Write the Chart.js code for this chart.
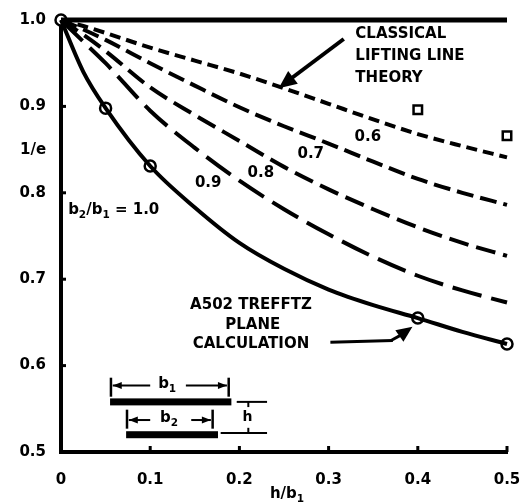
<!DOCTYPE html>
<html>
<head>
<meta charset="utf-8">
<script src="https://cdn.jsdelivr.net/npm/chart.js@4.4.1/dist/chart.umd.min.js"></script>
<style>
  html, body { margin: 0; padding: 0; background: #fff; }
</style>
</head>
<body>
<canvas id="myChart" width="523" height="504"></canvas>
<script>
// h/b1 positions where the curves were read
const hOverB1 = [0, 0.025, 0.05, 0.1, 0.15, 0.2, 0.25, 0.3, 0.35, 0.4, 0.45, 0.5];

// 1/e for each b2/b1 ratio
const ratio06 = [1.0, 0.993, 0.985, 0.968, 0.953, 0.938, 0.921, 0.903, 0.885, 0.868, 0.854, 0.841];
const ratio07 = [1.0, 0.989, 0.977, 0.95, 0.924, 0.899, 0.877, 0.857, 0.836, 0.816, 0.8, 0.786];
const ratio08 = [1.0, 0.983, 0.964, 0.922, 0.89, 0.86, 0.83, 0.804, 0.781, 0.76, 0.742, 0.727];
const ratio09 = [1.0, 0.975, 0.95, 0.895, 0.852, 0.814, 0.781, 0.752, 0.726, 0.704, 0.687, 0.673];
const ratio10 = [1.0, 0.94, 0.898, 0.831, 0.783, 0.742, 0.712, 0.688, 0.670, 0.655, 0.639, 0.625];

// A502 Trefftz plane calculation (circles)
const calcX = [0, 0.05, 0.1, 0.4, 0.5];
const calcY = [1.0, 0.898, 0.831, 0.655, 0.625];

// classical lifting line theory (squares)
const lltX = [0.4, 0.5];
const lltY = [0.896, 0.866];

// top line 1/e = 1
const topX = [0, 0.5];
const topY = [1.0, 1.0];

const xTicks = [0, 0.1, 0.2, 0.3, 0.4, 0.5];
const yTicks = [0.5, 0.6, 0.7, 0.8, 0.9, 1.0];

const pts = (xs, ys) => xs.map((x, i) => ({ x: x, y: ys[i] }));
const FONT = "DejaVu Sans";

function curve(ys, dash) {
  return {
    data: pts(hOverB1, ys),
    borderColor: "#000",
    borderWidth: 4,
    borderDash: dash,
    borderCapStyle: "butt",
    cubicInterpolationMode: "monotone",
    pointRadius: 0,
    clip: false,
  };
}

// annotations, drawn through the scales
const annotate = {
  id: "annotate",
  afterDatasetsDraw(chart) {
    const c = chart.ctx;
    const sx = chart.scales.x, sy = chart.scales.y;
    const px = (v) => sx.getPixelForValue(v);
    const py = (v) => sy.getPixelForValue(v);
    c.save();
    c.fillStyle = "#000";
    c.strokeStyle = "#000";

    function text(t, x, y, size, align) {
      c.font = "bold " + size + "px '" + FONT + "'";
      c.textAlign = align || "left";
      c.textBaseline = "middle";
      c.fillText(t, x, y);
    }
    // text with subscripts: parts = [[str, isSub], ...]
    function subText(parts, x, y, size, align) {
      let w = 0;
      parts.forEach((p) => {
        c.font = "bold " + (p[1] ? size * 0.7 : size) + "px '" + FONT + "'";
        w += c.measureText(p[0]).width;
      });
      let cx = align === "center" ? x - w / 2 : x;
      c.textAlign = "left";
      c.textBaseline = "middle";
      parts.forEach((p) => {
        c.font = "bold " + (p[1] ? size * 0.7 : size) + "px '" + FONT + "'";
        c.fillText(p[0], cx, p[1] ? y + size * 0.35 : y);
        cx += c.measureText(p[0]).width;
      });
    }
    function head(x0, y0, x1, y1, len, wid) {
      const a = Math.atan2(y1 - y0, x1 - x0);
      c.beginPath();
      c.moveTo(x1, y1);
      c.lineTo(x1 - len * Math.cos(a) + wid * Math.sin(a), y1 - len * Math.sin(a) - wid * Math.cos(a));
      c.lineTo(x1 - len * Math.cos(a) - wid * Math.sin(a), y1 - len * Math.sin(a) + wid * Math.cos(a));
      c.closePath();
      c.fill();
    }
    function line(x0, y0, x1, y1, w) {
      c.lineWidth = w;
      c.beginPath();
      c.moveTo(x0, y0);
      c.lineTo(x1, y1);
      c.stroke();
    }

    // inward tick marks
    const ca = chart.chartArea;
    c.lineCap = "butt";
    xTicks.slice(1).forEach((v) => line(px(v), ca.bottom, px(v), ca.bottom - 6, 3));
    yTicks.slice(1, 5).forEach((v) => line(ca.left, py(v), ca.left + 5, py(v), 3));

    // axis titles
    text("1/e", 20, 150, 15, "left");
    subText([["h/b", false], ["1", true]], 287, 494, 15, "center");

    // curve labels
    text("0.6", px(0.344), py(0.864), 15, "center");
    text("0.7", px(0.28), py(0.845), 15, "center");
    text("0.8", px(0.224), py(0.823), 15, "center");
    text("0.9", px(0.165), py(0.811), 15, "center");
    subText([["b", false], ["2", true], ["/b", false], ["1", true], [" = 1.0", false]], px(0.008), py(0.78), 15, "left");

    // classical lifting line theory
    text("CLASSICAL", px(0.33), py(0.984), 15, "left");
    text("LIFTING LINE", px(0.33), py(0.958), 15, "left");
    text("THEORY", px(0.33), py(0.933), 15, "left");
    line(px(0.317), py(0.978), px(0.255), py(0.93), 4);
    head(px(0.317), py(0.978), px(0.244), py(0.921), 18, 8);

    // A502 Trefftz plane calculation
    text("A502 TREFFTZ", px(0.213), py(0.67), 15, "center");
    text("PLANE", px(0.215), py(0.647), 15, "center");
    text("CALCULATION", px(0.213), py(0.625), 15, "center");
    line(px(0.302), py(0.627), px(0.372), py(0.629), 3);
    line(px(0.37), py(0.629), px(0.384), py(0.637), 3);
    head(px(0.372), py(0.629), px(0.394), py(0.645), 16, 7);

    // wing sketch
    const bar = (x0, x1, y) => { c.fillRect(px(x0), py(y) - 3.5, px(x1) - px(x0), 7); };
    bar(0.055, 0.191, 0.558);
    bar(0.073, 0.176, 0.52);
    // b1 dimension
    line(px(0.056), py(0.586), px(0.056), py(0.564), 2.5);
    line(px(0.188), py(0.586), px(0.188), py(0.564), 2.5);
    line(px(0.058), py(0.577), px(0.1), py(0.577), 2);
    line(px(0.14), py(0.577), px(0.186), py(0.577), 2);
    head(px(0.1), py(0.577), px(0.058), py(0.577), 9, 3.5);
    head(px(0.14), py(0.577), px(0.186), py(0.577), 9, 3.5);
    subText([["b", false], ["1", true]], px(0.119), py(0.579), 15, "center");
    // b2 dimension
    line(px(0.074), py(0.549), px(0.074), py(0.527), 2.5);
    line(px(0.17), py(0.549), px(0.17), py(0.527), 2.5);
    line(px(0.076), py(0.537), px(0.1), py(0.537), 2);
    line(px(0.146), py(0.537), px(0.168), py(0.537), 2);
    head(px(0.1), py(0.537), px(0.076), py(0.537), 9, 3.5);
    head(px(0.146), py(0.537), px(0.168), py(0.537), 9, 3.5);
    subText([["b", false], ["2", true]], px(0.121), py(0.539), 15, "center");
    // h dimension
    line(px(0.197), py(0.558), px(0.231), py(0.558), 2);
    line(px(0.179), py(0.522), px(0.231), py(0.522), 2);
    line(px(0.21), py(0.558), px(0.21), py(0.552), 2);
    line(px(0.21), py(0.528), px(0.21), py(0.522), 2);
    text("h", px(0.209), py(0.54), 14, "center");

    c.restore();
  },
};

new Chart(document.getElementById("myChart"), {
  type: "line",
  data: {
    datasets: [
      {
        data: pts(topX, topY),
        borderColor: "#000",
        borderWidth: 5,
        pointRadius: 0,
        clip: false,
      },
      curve(ratio06, [11, 6]),
      curve(ratio07, [17, 7]),
      curve(ratio08, [20, 8]),
      curve(ratio09, [30, 10]),
      curve(ratio10, []),
      {
        data: pts(calcX, calcY),
        showLine: false,
        pointStyle: "circle",
        pointRadius: 5.5,
        pointBorderWidth: 2.5,
        pointBackgroundColor: "#fff",
        pointBorderColor: "#000",
        clip: false,
      },
      {
        data: pts(lltX, lltY),
        showLine: false,
        pointStyle: "rect",
        pointRadius: 6,
        pointBorderWidth: 2.5,
        pointBackgroundColor: "#fff",
        pointBorderColor: "#000",
        clip: false,
      },
    ],
  },
  options: {
    responsive: false,
    animation: false,
    layout: { padding: { top: 20, right: 16, left: 0, bottom: 0 } },
    plugins: {
      legend: { display: false },
      tooltip: { enabled: false },
    },
    scales: {
      x: {
        type: "linear",
        min: 0,
        max: 0.5,
        afterFit: (s) => { s.height = 52; s.paddingLeft = 0; s.paddingRight = 0; },
        afterBuildTicks: (s) => { s.ticks = xTicks.map((v) => ({ value: v })); },
        border: { display: true, width: 4, color: "#000" },
        grid: { display: false, drawTicks: false },
        ticks: {
          padding: 19,
          color: "#000",
          font: { family: FONT, weight: "bold", size: 15 },
          callback: (v) => (v === 0 ? "0" : v.toFixed(1)),
        },
      },
      y: {
        type: "linear",
        min: 0.5,
        max: 1.0,
        afterFit: (s) => { s.width = 61; s.paddingTop = 0; s.paddingBottom = 0; },
        afterBuildTicks: (s) => { s.ticks = yTicks.map((v) => ({ value: v })); },
        border: { display: true, width: 4, color: "#000" },
        grid: { display: false, drawTicks: false },
        ticks: {
          padding: 15,
          color: "#000",
          font: { family: FONT, weight: "bold", size: 15 },
          callback: (v) => v.toFixed(1),
        },
      },
    },
  },
  plugins: [annotate],
});
</script>
</body>
</html>
